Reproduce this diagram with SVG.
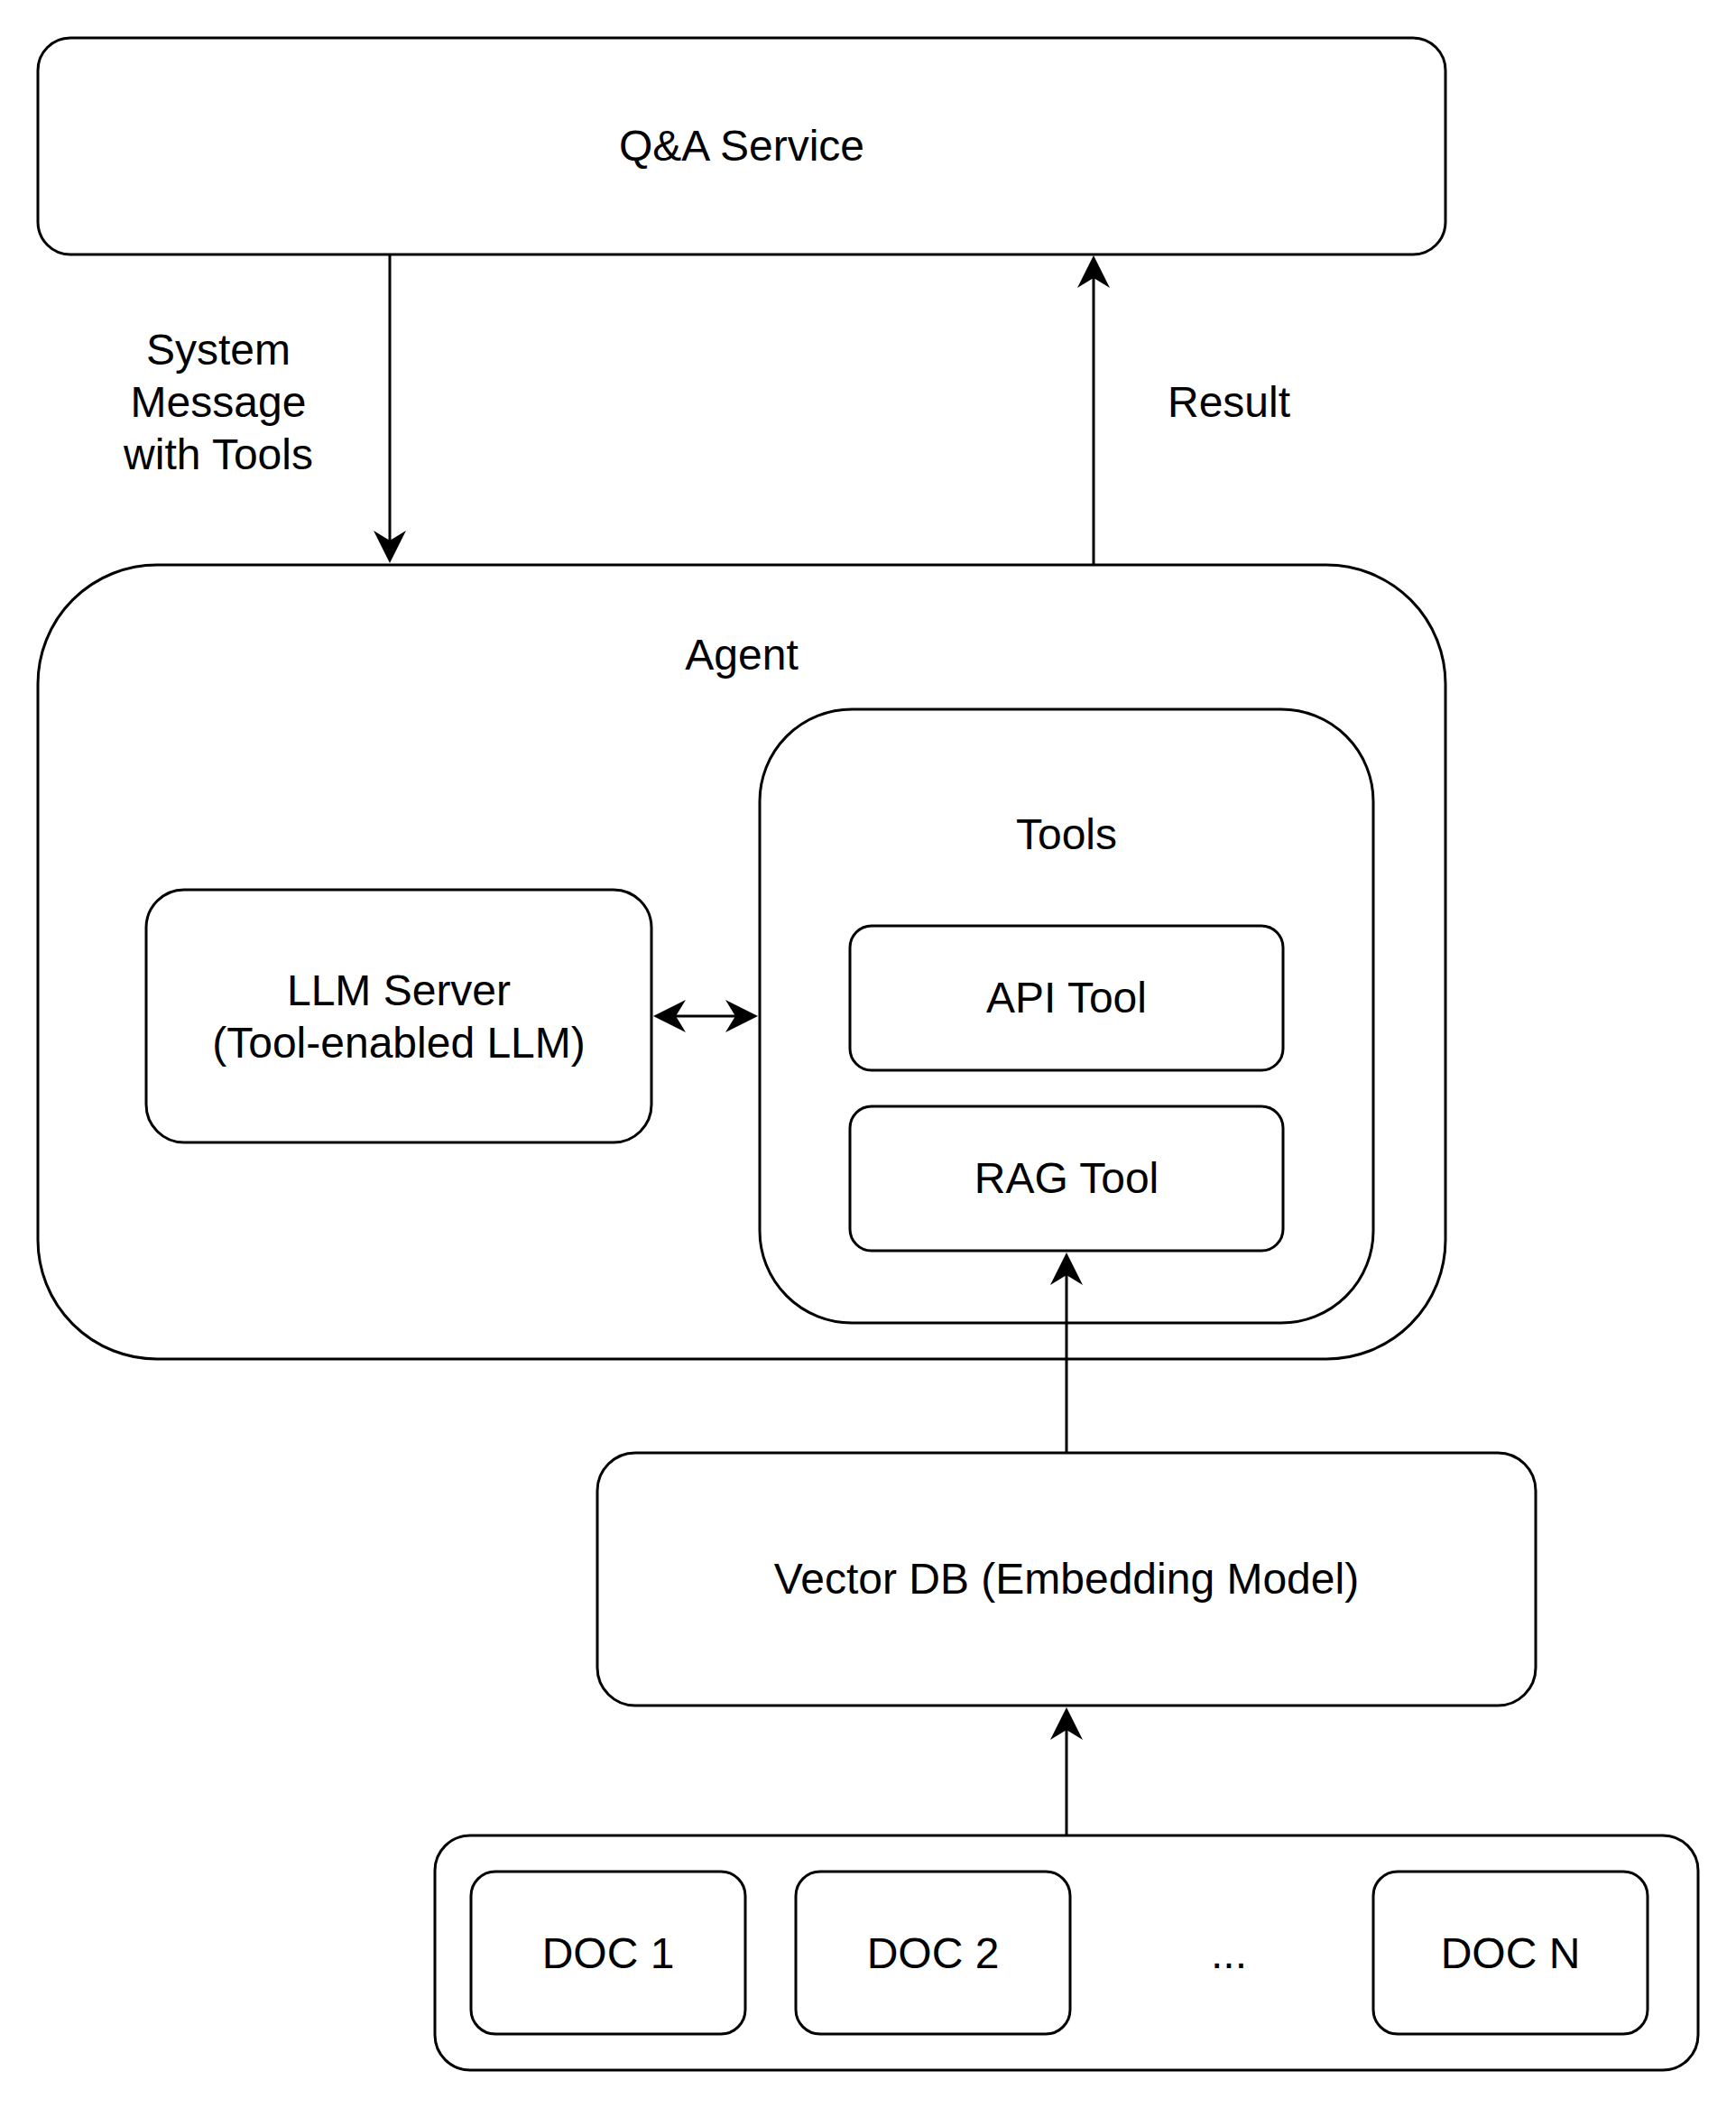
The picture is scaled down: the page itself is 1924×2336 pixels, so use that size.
<svg xmlns="http://www.w3.org/2000/svg" width="1924" height="2336" viewBox="0 0 1924 2336">
  <style>
    .box { fill: #ffffff; stroke: #000000; stroke-width: 3; }
    .lbl { font-family: "Liberation Sans", Arial, Helvetica, sans-serif; font-size: 48px; fill: #000000; text-anchor: middle; }
    .edge { stroke: #000000; stroke-width: 3; fill: none; }
  </style>
  <defs>
    <marker id="arrow" markerUnits="userSpaceOnUse" viewBox="0 0 36 36" markerWidth="36" markerHeight="36" refX="11" refY="18" orient="auto-start-reverse">
      <path d="M0,0 L36,18 L0,36 L11,18 Z" fill="#000000"/>
    </marker>
  </defs>
  <rect width="1924" height="2336" fill="#ffffff"/>

  <g id="qa-service">
    <rect class="box" x="42" y="42" width="1560" height="240" rx="36" ry="36"/>
    <text class="lbl" x="822" y="178">Q&amp;A Service</text>
  </g>

  <g id="agent">
    <rect class="box" x="42" y="626" width="1560" height="880" rx="132" ry="132"/>
    <text class="lbl" x="822" y="742">Agent</text>
  </g>

  <g id="tools">
    <rect class="box" x="842" y="786" width="680" height="680" rx="102" ry="102"/>
    <text class="lbl" x="1182" y="941">Tools</text>
  </g>

  <g id="llm-server">
    <rect class="box" x="162" y="986" width="560" height="280" rx="42" ry="42"/>
    <text class="lbl" x="442" y="1114">LLM Server</text>
    <text class="lbl" x="442" y="1172">(Tool-enabled LLM)</text>
  </g>

  <g id="api-tool">
    <rect class="box" x="942" y="1026" width="480" height="160" rx="24" ry="24"/>
    <text class="lbl" x="1182" y="1122">API Tool</text>
  </g>

  <g id="rag-tool">
    <rect class="box" x="942" y="1226" width="480" height="160" rx="24" ry="24"/>
    <text class="lbl" x="1182" y="1322">RAG Tool</text>
  </g>

  <g id="vector-db">
    <rect class="box" x="662" y="1610" width="1040" height="280" rx="42" ry="42"/>
    <text class="lbl" x="1182" y="1766">Vector DB (Embedding Model)</text>
  </g>

  <g id="docs">
    <rect class="box" x="482" y="2034" width="1400" height="260" rx="39" ry="39"/>
  </g>

  <g id="doc-1">
    <rect class="box" x="522" y="2074" width="304" height="180" rx="27" ry="27"/>
    <text class="lbl" x="674" y="2181">DOC 1</text>
  </g>

  <g id="doc-2">
    <rect class="box" x="882" y="2074" width="304" height="180" rx="27" ry="27"/>
    <text class="lbl" x="1034" y="2181">DOC 2</text>
  </g>

  <g id="doc-ellipsis">
    <text class="lbl" x="1362" y="2181">...</text>
  </g>

  <g id="doc-n">
    <rect class="box" x="1522" y="2074" width="304" height="180" rx="27" ry="27"/>
    <text class="lbl" x="1674" y="2181">DOC N</text>
  </g>

  <g id="connectors">
    <line class="edge" x1="432" y1="282" x2="432" y2="599" marker-end="url(#arrow)"/>
    <line class="edge" x1="1212" y1="626" x2="1212" y2="308" marker-end="url(#arrow)"/>
    <line class="edge" x1="749" y1="1126" x2="815" y2="1126" marker-start="url(#arrow)" marker-end="url(#arrow)"/>
    <line class="edge" x1="1182" y1="1610" x2="1182" y2="1413" marker-end="url(#arrow)"/>
    <line class="edge" x1="1182" y1="2034" x2="1182" y2="1917" marker-end="url(#arrow)"/>
    <text class="lbl" x="242" y="404">System</text>
    <text class="lbl" x="242" y="462">Message</text>
    <text class="lbl" x="242" y="520">with Tools</text>
    <text class="lbl" x="1362" y="462">Result</text>
  </g>
</svg>
